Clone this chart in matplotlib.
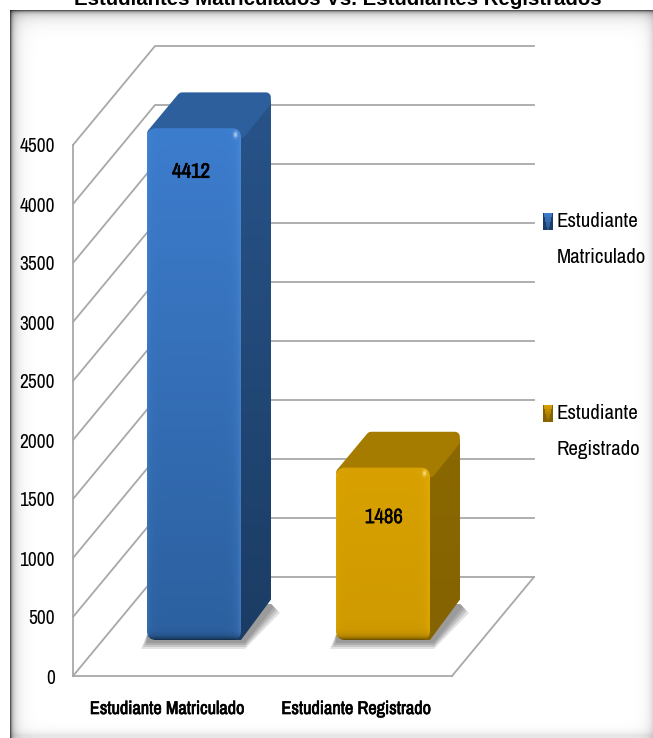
import numpy as np
import matplotlib
matplotlib.use("Agg")
import matplotlib.pyplot as plt
from matplotlib import font_manager, patheffects
from matplotlib.patches import FancyBboxPatch, Polygon

# DATA
title = "Estudiantes Matriculados Vs. Estudiantes Registrados"
categories = ["Estudiante Matriculado", "Estudiante Registrado"]
legend_labels = ["Estudiante\nMatriculado", "Estudiante\nRegistrado"]
values = [4412, 1486]
yticks = [0, 500, 1000, 1500, 2000, 2500, 3000, 3500, 4000, 4500]

# STYLE
names = sorted({f.name for f in font_manager.fontManager.ttflist
                if "narrow" in f.name.lower() or "condensed" in f.name.lower() or f.stretch in ("condensed", 75)})
narrow = names[:1] + ["Lato", "DejaVu Sans"]
plt.rcParams["font.family"] = narrow
W, H = 653, 738
PX_X = 189.0                # pixels per category
PX_Y = 0.118                # pixels per value unit
DEPTH_X = 82 / PX_X         # wall depth in category units
DEPTH_Y = 99 / PX_Y         # wall depth in value units
BAR_W = 94 / PX_X
BAR_BASE = 36 / PX_Y        # front of bar sits this far up the floor
SIDE_X = 30 / PX_X
SIDE_Y = 36 / PX_Y
BAR_SCALE = 0.983           # bars stand behind the front plane
RAD = 9 / PX_X
ASPECT = PX_X / PX_Y
GRID = "#a8a8a8"
colors = [
    dict(front=("#3d7dce", "#2c609f"), top="#2c5f9b", side=("#28548a", "#1b3c64"), edge="#5a9be8"),
    dict(front=("#d8a100", "#cf9a00"), top="#a67c00", side=("#8b6800", "#846300"), edge="#f0b800"),
]
legend_y = [222, 414]
label_offset = [-44, -50]
bold = [patheffects.withStroke(linewidth=0.5, foreground="black")]
semi = [patheffects.withStroke(linewidth=0.25, foreground="black")]


def rgb(c):
    return np.array(matplotlib.colors.to_rgb(c))


def vgrad(top, bottom, n=200):
    t = np.linspace(0, 1, n)[:, None]
    return rgb(top)[None, :] * (1 - t) + rgb(bottom)[None, :] * t


fig = plt.figure(figsize=(W / 100, H / 100), dpi=100)

# frame and title, in pixel coordinates
bg = fig.add_axes([0, 0, 1, 1])
bg.set_xlim(0, W)
bg.set_ylim(H, 0)
bg.axis("off")
xx, yy = np.meshgrid(np.arange(W) + 0.5, np.arange(H) + 0.5)
dl, dt = np.clip(xx - 10, 0, None), np.clip(yy - 10, 0, None)
shade = np.ones((H, W))
shade *= 1 - 0.55 * np.exp(-dl / 1.5) - 0.30 * np.exp(-dl / 6.0)
shade *= 1 - 0.55 * np.exp(-dt / 1.5) - 0.28 * np.exp(-dt / 7.0)
shade *= 1 - 0.15 * np.exp(-np.clip(W - xx, 0, None) / 5.0)
shade *= 1 - 0.10 * np.exp(-np.clip(H - 3 - yy, 0, None) / 4.0)
shade[(xx < 10) | (yy < 10)] = 1
bg.imshow(shade, cmap="gray", vmin=0, vmax=1, extent=(0, W, H, 0), aspect="auto", zorder=0)
bg.text(338, 5, title, ha="center", va="baseline", fontsize=14.7, fontweight="bold",
        family=["Liberation Sans", "DejaVu Sans"], color="black", zorder=3)

# legend
for y0, label, c in zip(legend_y, legend_labels, colors):
    u, t = np.meshgrid(np.linspace(-1, 1, 10), np.linspace(0, 1, 17))
    mark = vgrad(c["front"][0], c["side"][0], 17)[:, None, :] * np.ones((17, 10, 1))
    mark[np.abs(u) > 0.75 * (1 - t) + 0.2] = rgb(c["side"][1])
    bg.imshow(mark, extent=(543, 553, y0 + 8.5, y0 - 8.5), aspect="auto", zorder=2)
    bg.text(557, y0 - 10, label, ha="left", va="top", fontsize=15, linespacing=2.15, zorder=3)
bg.set_xlim(0, W)
bg.set_ylim(H, 0)

# chart, in value and category coordinates
left, right, bottom, top = 73, 534, 676, 40
ax = fig.add_axes([left / W, 1 - bottom / H, (right - left) / W, (bottom - top) / H])
ax.patch.set_alpha(0)
ax.set_xlim(-121 / PX_X, (right - 194) / PX_X)
ax.set_ylim(0, (bottom - top) / PX_Y)
front_right = (452 - 194) / PX_X
x0 = ax.get_xlim()[0]

for s in ["top", "right"]:
    ax.spines[s].set_visible(False)
ax.spines["left"].set_bounds(0, yticks[-1])
ax.spines["bottom"].set_bounds(x0, front_right)
for s in ["left", "bottom"]:
    ax.spines[s].set_color(GRID)
    ax.spines[s].set_linewidth(1.3)

ax.set_yticks(yticks)
ax.set_yticklabels([str(v) for v in yticks], fontsize=14)
ax.set_xticks([i - 27 / PX_X for i in range(len(categories))])
ax.set_xticklabels(categories, fontsize=13.2, path_effects=bold)
ax.tick_params(axis="y", length=0, pad=13)
ax.tick_params(axis="x", length=0, pad=18)

# walls
for v in yticks:
    ax.plot([x0, x0 + DEPTH_X, x0 + DEPTH_X + 379 / PX_X], [v, v + DEPTH_Y, v + DEPTH_Y],
            color=GRID, lw=1.3, zorder=1, clip_on=False, solid_joinstyle="miter")
ax.plot([front_right, front_right + DEPTH_X], [0, DEPTH_Y], color=GRID, lw=1.3, zorder=1, clip_on=False)

# bars
for i, (v, c) in enumerate(zip(values, colors)):
    xl, xr = i - BAR_W / 2, i + BAR_W / 2
    y0 = BAR_BASE
    y1 = BAR_BASE + v * BAR_SCALE

    # soft shadow on the floor
    for grow, alpha in zip([9, 7, 5, 3], [0.25, 0.35, 0.45, 0.6]):
        gx, gy = grow / PX_X, grow / PX_Y
        pts = [(xl - gx + 3 / PX_X, y0 - gy), (xr + 4 / PX_X, y0 - gy),
               (xr + SIDE_X + gx, y0 + SIDE_Y - gy), (xr + SIDE_X, y0 + SIDE_Y),
               (xr, y0 + SIDE_Y), (xl, y0 + 5 / PX_Y)]
        ax.add_patch(Polygon(pts, closed=True, fc="#909090", ec="none", alpha=alpha, zorder=2))

    # side face
    side = Polygon([(xr - RAD, y0), (xr - RAD, y1 - 0.5 * RAD * ASPECT),
                    (xr + SIDE_X - 0.4 * RAD, y1 + SIDE_Y - 0.3 * RAD * ASPECT),
                    (xr + SIDE_X, y1 + SIDE_Y - RAD * ASPECT), (xr + SIDE_X, y0 + SIDE_Y + 0.5 * RAD * ASPECT),
                    (xr, y0)], closed=True, fc="none", ec="none", zorder=3)
    ax.add_patch(side)
    im = ax.imshow(vgrad(*c["side"])[:, None, :], extent=(xr - RAD, xr + SIDE_X, y0, y1 + SIDE_Y),
                   aspect="auto", zorder=3, origin="upper")
    im.set_clip_path(side)

    # top face, thick round outline gives the soft corners
    inset_x, inset_y = 5 / PX_X, 5 / PX_Y
    ax.add_patch(Polygon([(xl + inset_x, y1 - inset_y), (xl + SIDE_X + inset_x, y1 + SIDE_Y - inset_y),
                          (xr + SIDE_X - inset_x, y1 + SIDE_Y - inset_y), (xr + SIDE_X - inset_x, y1 + SIDE_Y - 2 * inset_y),
                          (xr, y1 - inset_y)],
                         closed=True, fc=c["top"], ec=c["top"], lw=7, joinstyle="round", zorder=4))

    # front face, darker towards the rim, with a small glint at the top right
    box = FancyBboxPatch((xl + RAD, y0 + RAD * ASPECT), BAR_W - 2 * RAD, v * BAR_SCALE - 2 * RAD * ASPECT,
                         boxstyle="round,pad=%f,rounding_size=%f" % (RAD, RAD), mutation_aspect=ASPECT,
                         fc="none", ec="none", zorder=5)
    ax.add_patch(box)
    rows = 400
    img = vgrad(*c["front"], n=rows)[:, None, :] * np.ones((rows, 94, 1))
    u = np.linspace(0, 1, 94)[None, :, None]
    t = np.linspace(0, 1, rows)[:, None, None]
    rim = np.exp(-u / 0.03) * 0.5 + np.exp(-(1 - u) / 0.04) * 0.8
    img = img * (1 - rim * 0.45) + rgb(c["edge"]) * rim * 0.45
    img = img * (1 - 0.5 * np.exp(-(1 - t) * (v * BAR_SCALE * PX_Y) / 3))
    px_down = t * (v * BAR_SCALE * PX_Y)
    glint = np.exp(-(((1 - u) * 94 - 5) / 2) ** 2 - ((px_down - 6) / 3) ** 2)
    img = img * (1 - glint) + glint * (0.5 * rgb(c["edge"]) + 0.5)
    im = ax.imshow(np.clip(img, 0, 1), extent=(xl, xr, y0, y1), aspect="auto", zorder=5, origin="upper")
    im.set_clip_path(box)

    ax.annotate(str(v), (i, y1), xytext=(-3 if i == 0 else 1, label_offset[i]), textcoords="offset pixels",
                ha="center", va="center", fontsize=15, path_effects=bold if i == 0 else semi,
                color="black", zorder=6)

ax.set_xlim(-121 / PX_X, (right - 194) / PX_X)
ax.set_ylim(0, (bottom - top) / PX_Y)

fig.savefig("out.png", dpi=100)
